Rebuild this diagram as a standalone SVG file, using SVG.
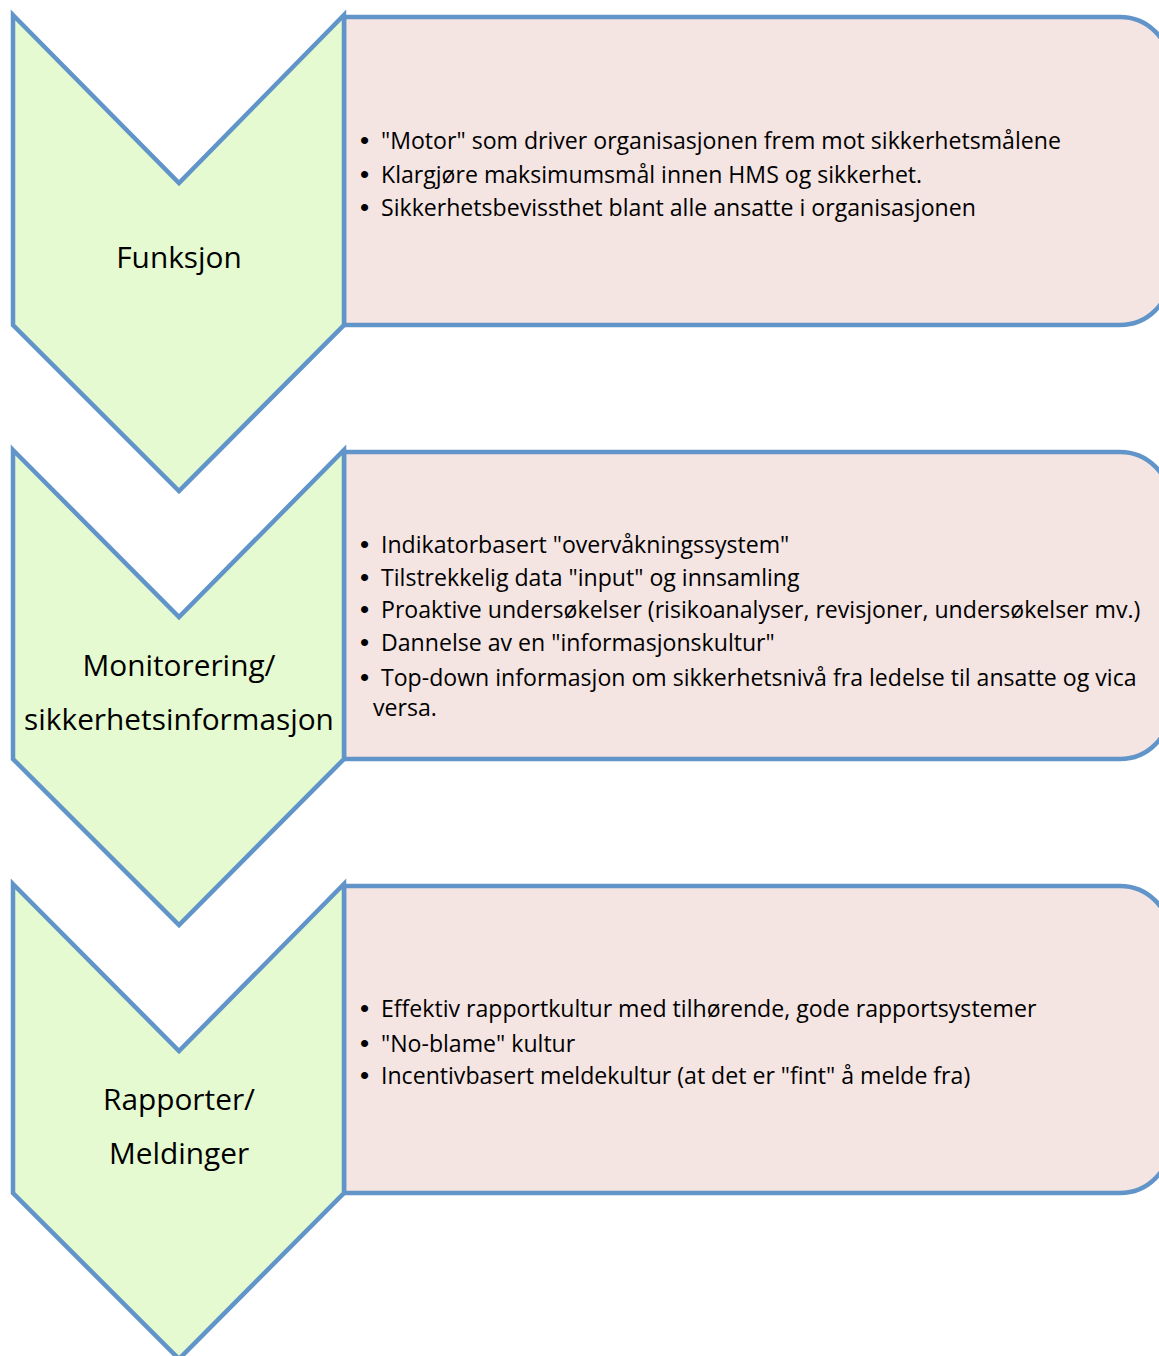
<svg xmlns="http://www.w3.org/2000/svg" width="1159" height="1356" viewBox="0 0 1159 1356">
<style>
.chev{fill:#e5fad0;stroke:#6195c9;stroke-width:4.5;stroke-linejoin:miter}
.box{fill:#f4e4e2;stroke:#6195c9;stroke-width:4.5}
.lbl{font-family:"Open Sans","Liberation Sans",sans-serif;font-size:29.8px;fill:#000;text-anchor:middle}
.txt{font-family:"Open Sans","Liberation Sans",sans-serif;font-size:23.1px;fill:#000}
.bul{font-family:"Liberation Sans",sans-serif;font-size:26px;fill:#000}
</style>
<rect width="1159" height="1356" fill="#fff"/>
<g id="box1"><path class="box" d="M344,17 H1120 A50,50 0 0 1 1170,67 V275 A50,50 0 0 1 1120,325 H344 Z"/>
<text class="txt" y="149"><tspan class="bul" x="360">•</tspan><tspan x="381">"Motor" som driver organisasjonen frem mot sikkerhetsmålene</tspan></text>
<text class="txt" y="183"><tspan class="bul" x="360">•</tspan><tspan x="381">Klargjøre maksimumsmål innen HMS og sikkerhet.</tspan></text>
<text class="txt" y="216"><tspan class="bul" x="360">•</tspan><tspan x="381">Sikkerhetsbevissthet blant alle ansatte i organisasjonen</tspan></text>
</g>
<g id="box2"><path class="box" d="M344,452 H1120 A50,50 0 0 1 1170,502 V709 A50,50 0 0 1 1120,759 H344 Z"/>
<text class="txt" y="553"><tspan class="bul" x="360">•</tspan><tspan x="381">Indikatorbasert "overvåkningssystem"</tspan></text>
<text class="txt" y="586"><tspan class="bul" x="360">•</tspan><tspan x="381">Tilstrekkelig data "input" og innsamling</tspan></text>
<text class="txt" y="618"><tspan class="bul" x="360">•</tspan><tspan x="381">Proaktive undersøkelser (risikoanalyser, revisjoner, undersøkelser mv.)</tspan></text>
<text class="txt" y="651"><tspan class="bul" x="360">•</tspan><tspan x="381">Dannelse av en "informasjonskultur"</tspan></text>
<text class="txt" y="686"><tspan class="bul" x="360">•</tspan><tspan x="381">Top-down informasjon om sikkerhetsnivå fra ledelse til ansatte og vica</tspan></text>
<text class="txt" x="373" y="716">versa.</text>
</g>
<g id="box3"><path class="box" d="M344,886 H1120 A50,50 0 0 1 1170,936 V1143 A50,50 0 0 1 1120,1193 H344 Z"/>
<text class="txt" y="1017"><tspan class="bul" x="360">•</tspan><tspan x="381">Effektiv rapportkultur med tilhørende, gode rapportsystemer</tspan></text>
<text class="txt" y="1052"><tspan class="bul" x="360">•</tspan><tspan x="381">"No-blame" kultur</tspan></text>
<text class="txt" y="1084"><tspan class="bul" x="360">•</tspan><tspan x="381">Incentivbasert meldekultur (at det er "fint" å melde fra)</tspan></text>
</g>
<g id="chev1"><polygon class="chev" points="13,15 179,183 344,15 344,325 179,491 13,325"/>
<text class="lbl" x="179" y="268">Funksjon</text></g>
<g id="chev2"><polygon class="chev" points="13,450 179,617 344,450 344,759 179,925 13,759"/>
<text class="lbl" x="179" y="676">Monitorering/</text>
<text class="lbl" x="179" y="730">sikkerhetsinformasjon</text></g>
<g id="chev3"><polygon class="chev" points="13,884 179,1051 344,884 344,1193 179,1359 13,1193"/>
<text class="lbl" x="179" y="1110">Rapporter/</text>
<text class="lbl" x="179" y="1164">Meldinger</text></g>
<g id="connectors"></g>
</svg>
